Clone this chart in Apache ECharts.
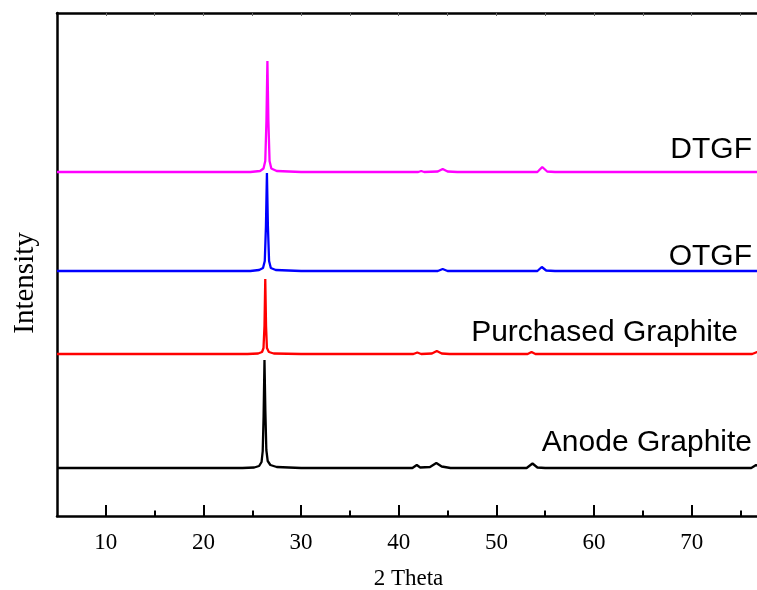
<!DOCTYPE html>
<html>
<head>
<meta charset="utf-8">
<title>XRD patterns</title>
<script src="https://cdn.jsdelivr.net/npm/echarts@6/dist/echarts.min.js"></script>
<style>
  html, body { margin: 0; padding: 0; background: #fff; }
  #chart { width: 757px; height: 590px; }
</style>
</head>
<body>
<div id="chart"></div>
<script>
// 2-theta / offset intensity points (arbitrary units, stacked)
var anodeGraphite = [
  [5, 48], [15, 48], [24, 48], [25.2, 48.5], [25.7, 50], [25.95, 54], [26.07, 65], [26.16, 100],
  [26.25, 156], [26.34, 105], [26.44, 66], [26.58, 55], [26.85, 51], [27.5, 49], [30, 48],
  [41.4, 48], [41.85, 51], [42.2, 48.5], [43.2, 49], [43.85, 53], [44.4, 49.5], [45.3, 48],
  [53.1, 48], [53.7, 52.5], [54.2, 48.5], [55, 48], [76.1, 48], [76.6, 51], [77, 49]
];
var purchasedGraphite = [
  [5, 162], [15, 162], [24.5, 162], [25.6, 162.5], [26.0, 164], [26.15, 168], [26.25, 190],
  [26.33, 237], [26.41, 190], [26.5, 168], [26.7, 164], [27.2, 162.5], [30, 162],
  [41.5, 162], [41.9, 163.5], [42.3, 162], [43.4, 162.5], [43.9, 165], [44.4, 162.5], [45.2, 162],
  [53.2, 162], [53.6, 164], [54.0, 162], [76.2, 162], [76.7, 164], [77, 163]
];
var otgf = [
  [5, 245], [15, 245], [24.8, 245], [25.7, 246], [26.1, 248], [26.28, 255], [26.4, 290],
  [26.5, 343], [26.6, 290], [26.72, 255], [26.9, 248], [27.4, 246], [30, 245],
  [44.0, 245], [44.5, 247], [45.0, 245], [54.2, 245], [54.65, 249], [55.1, 245.5], [56, 245], [77, 245]
];
var dtgf = [
  [5, 344], [15, 344], [24.8, 344], [25.8, 345], [26.15, 347.5], [26.33, 355], [26.45, 395],
  [26.55, 455], [26.65, 395], [26.77, 355], [26.95, 347.5], [27.5, 345], [30, 344],
  [42.0, 344], [42.3, 345], [42.6, 344], [44.0, 344.5], [44.5, 347], [45.0, 344.5], [46, 344],
  [54.2, 344], [54.7, 349], [55.2, 344.5], [56, 344], [77, 344]
];

var majorTicks = [10, 20, 30, 40, 50, 60, 70];
var minorTicks = [15, 25, 35, 45, 55, 65, 75];
var seriesNames = ['Anode Graphite', 'Purchased Graphite', 'OTGF', 'DTGF'];
var seriesColors = ['#000000', '#ff0000', '#0000ff', '#ff00ff'];
var seriesData = [anodeGraphite, purchasedGraphite, otgf, dtgf];

var serif = '"Liberation Serif", "Times New Roman", serif';
var sans = '"Liberation Sans", Arial, sans-serif';

var chart = echarts.init(document.getElementById('chart'));

var xBase = { type: 'value', min: 5, max: 77, splitLine: { show: false } };

chart.setOption({
  backgroundColor: '#fff',
  animation: false,
  grid: { left: 57, right: -3, top: 13, bottom: 74, outerBoundsMode: 'none', containLabel: false },
  xAxis: [
    Object.assign({}, xBase, {
      position: 'bottom',
      name: '2 Theta',
      nameLocation: 'middle',
      nameGap: 51,
      nameTextStyle: { fontFamily: serif, fontSize: 23, color: '#000' },
      axisLine: { lineStyle: { color: '#000', width: 2.5 } },
      axisTick: { inside: true, length: 11, customValues: majorTicks, lineStyle: { color: '#000', width: 2 } },
      axisLabel: { customValues: majorTicks, margin: 15, fontFamily: serif, fontSize: 23, color: '#000' }
    }),
    Object.assign({}, xBase, {
      position: 'bottom',
      axisLine: { show: false },
      axisTick: { inside: true, length: 5.5, customValues: minorTicks, lineStyle: { color: '#000', width: 2 } },
      axisLabel: { show: false }
    }),
    Object.assign({}, xBase, {
      position: 'top',
      axisLine: { lineStyle: { color: '#000', width: 2.5 } },
      axisTick: { inside: true, length: 3, customValues: majorTicks.concat(minorTicks), lineStyle: { color: '#666', width: 1 } },
      axisLabel: { show: false }
    })
  ],
  yAxis: {
    type: 'value',
    min: 0,
    max: 503,
    axisLine: { show: true, lineStyle: { color: '#000', width: 2.5 } },
    axisTick: { show: false },
    axisLabel: { show: false },
    splitLine: { show: false }
  },
  graphic: [
    { type: 'text', x: 25, y: 283, rotation: Math.PI / 2,
      style: { text: 'Intensity', font: '29px ' + serif, fill: '#000', align: 'center', verticalAlign: 'middle' } },
    { type: 'text', x: 752, y: 150, style: { text: 'DTGF', font: '30px ' + sans, fill: '#000', align: 'right', verticalAlign: 'middle' } },
    { type: 'text', x: 752, y: 257, style: { text: 'OTGF', font: '30px ' + sans, fill: '#000', align: 'right', verticalAlign: 'middle' } },
    { type: 'text', x: 738, y: 333, style: { text: 'Purchased Graphite', font: '30px ' + sans, fill: '#000', align: 'right', verticalAlign: 'middle' } },
    { type: 'text', x: 752, y: 443, style: { text: 'Anode Graphite', font: '30px ' + sans, fill: '#000', align: 'right', verticalAlign: 'middle' } }
  ],
  series: seriesData.map(function (d, i) {
    return {
      name: seriesNames[i],
      type: 'line',
      data: d,
      xAxisIndex: 0,
      showSymbol: false,
      smooth: false,
      lineStyle: { color: seriesColors[i], width: 2.3 },
      z: 3
    };
  })
});
</script>
</body>
</html>
